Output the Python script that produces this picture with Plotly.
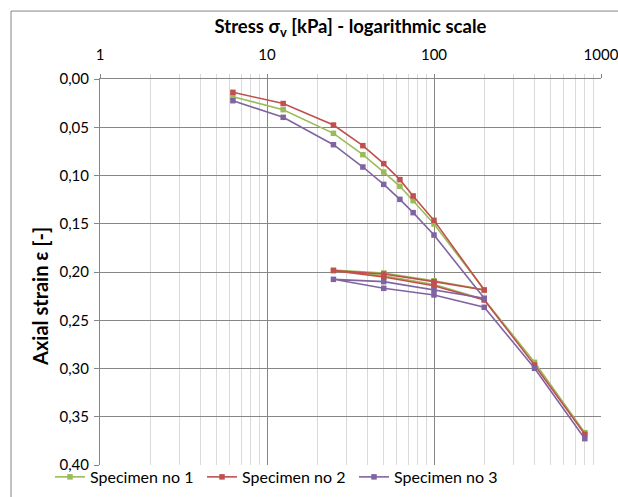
import plotly.graph_objects as go

# Stress sequence: loading, unloading, reloading, further loading
stress = [6.25, 12.5, 25, 37.5, 50, 62.5, 75, 100, 200, 100, 50, 25, 50, 100, 200, 400, 800]

strain_1 = [0.0183, 0.0318, 0.0563, 0.0784, 0.0964, 0.1112, 0.1261, 0.1503, 0.2185,
            0.2090, 0.2010, 0.1980, 0.2040, 0.2130, 0.2285, 0.2936, 0.3665]
strain_2 = [0.0138, 0.0254, 0.0477, 0.0691, 0.0877, 0.1043, 0.1212, 0.1465, 0.2187,
            0.2100, 0.2021, 0.1986, 0.2052, 0.2142, 0.2290, 0.2964, 0.3682]
strain_3 = [0.0225, 0.0397, 0.0681, 0.0912, 0.1092, 0.1247, 0.1385, 0.1617, 0.2272,
            0.2187, 0.2100, 0.2076, 0.2169, 0.2238, 0.2366, 0.2998, 0.3727]

names = ["Specimen no 1", "Specimen no 2", "Specimen no 3"]
colors = ["#9BBB59", "#C0504D", "#8064A2"]

FONT = "Lato, Noto Sans, sans-serif"

fig = go.Figure()
for name, ys, c in zip(names, [strain_1, strain_2, strain_3], colors):
    fig.add_trace(go.Scatter(
        x=stress, y=ys, name=name, mode="lines+markers",
        line=dict(color=c, width=1.6),
        marker=dict(symbol="square", size=5.5, color=c),
    ))

fig.update_layout(
    width=618, height=497,
    margin=dict(l=100, r=17, t=79, b=32, autoexpand=False),
    paper_bgcolor="white", plot_bgcolor="white",
    separators=",.",
    font=dict(family=FONT, size=15, color="#000000"),
    showlegend=True,
    legend=dict(orientation="h", x=-0.0998, y=-0.031, xanchor="left", yanchor="middle",
                font=dict(size=16, family=FONT), bgcolor="rgba(255,255,255,0)",
                itemwidth=30, entrywidth=107, entrywidthmode="pixels", tracegroupgap=0),
    xaxis=dict(
        type="log", side="top", range=[0, 3], automargin=False,
        tickvals=[1, 10, 100, 1000], ticktext=["1", "10", "100", "1000"],
        showgrid=True, gridcolor="#868686", gridwidth=1,
        ticks="outside", ticklen=4, tickcolor="#868686",
        ticklabelstandoff=8, ticklabeloverflow="allow",
        showline=True, linecolor="#868686", linewidth=1,
        minor=dict(dtick="D1", showgrid=True, gridcolor="#D9D9D9", gridwidth=1,
                   ticks="outside", ticklen=4, tickcolor="#D9D9D9"),
        title=dict(text="<b>Stress σ<sub>v</sub> [kPa] - logarithmic scale</b>",
                   font=dict(size=18.5, family=FONT), standoff=6),
        tickfont=dict(size=15, family=FONT),
        zeroline=False,
    ),
    yaxis=dict(
        range=[0.40, 0.0], dtick=0.05, tickformat=".2f", automargin=False,
        showgrid=True, gridcolor="#868686", gridwidth=1,
        ticks="outside", ticklen=5, tickcolor="#868686",
        ticklabelstandoff=2, ticklabeloverflow="allow",
        showline=True, linecolor="#868686", linewidth=1,
        tickfont=dict(size=15, family=FONT),
        zeroline=False,
    ),
    annotations=[dict(text="<b>Axial strain ε [-]</b>", xref="paper", yref="paper",
                      x=-0.1198, y=0.4378, xanchor="center", yanchor="middle",
                      textangle=-90, showarrow=False,
                      font=dict(size=20, family=FONT, color="#000000"))],
    shapes=[dict(type="rect", xref="paper", yref="paper",
                 x0=-0.1776, x1=1.2, y0=-0.3, y1=1.176,
                 line=dict(color="#868686", width=1), fillcolor="rgba(0,0,0,0)", layer="below")],
)

fig.write_html("out.html", config={"displayModeBar": False},
               post_script="document.body.style.margin='0px';document.body.style.overflow='hidden';")
